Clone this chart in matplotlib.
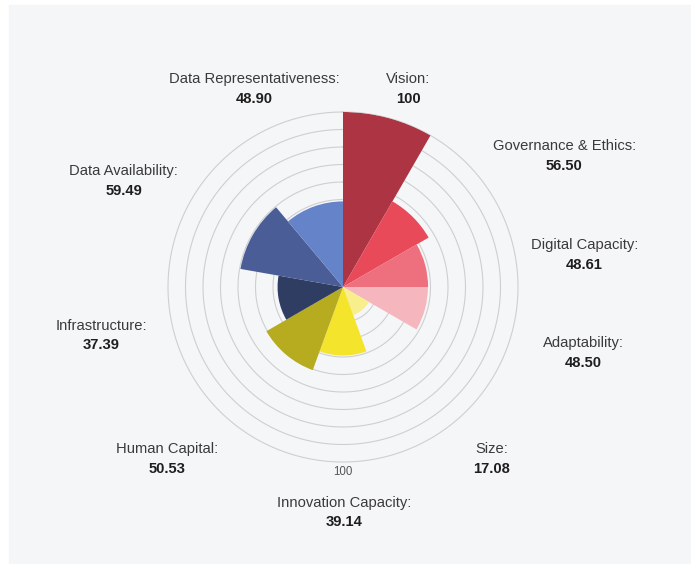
import matplotlib.pyplot as plt
import numpy as np

plt.rcParams['font.family'] = ['Liberation Sans', 'DejaVu Sans']

# data
categories = ["Vision", "Governance & Ethics", "Digital Capacity", "Adaptability",
              "Size", "Innovation Capacity", "Human Capital", "Infrastructure",
              "Data Availability", "Data Representativeness"]
scores = [100, 56.50, 48.61, 48.50, 17.08, 39.14, 50.53, 37.39, 59.49, 48.90]
value_labels = ["100", "56.50", "48.61", "48.50", "17.08", "39.14", "50.53",
                "37.39", "59.49", "48.90"]
# angular share of each sector, degrees (clockwise from top)
sector_deg = [30, 30, 30, 30, 40, 40, 40, 40, 40, 40]
grid_levels = [10, 20, 30, 40, 50, 60, 70, 80, 90, 100]

colors = ["#ad3443", "#e84a5a", "#ee6f7d", "#f5b6be", "#f8ee8c",
          "#f4e52c", "#b7ab1f", "#2f3d63", "#4b5d96", "#6583c8"]

# label placement: (compass angle in degrees, radius in data units)
label_pos = [(18, 120), (59, 147), (82, 139), (105, 142), (139, 129),
             (180, 128), (226, 140), (259, 141), (296, 140), (336, 125)]

W, H = 691, 564
fig = plt.figure(figsize=(W / 100, H / 100), dpi=100)
fig.patch.set_facecolor("white")
fig.add_artist(plt.Rectangle((9 / W, 0), 1 - 9 / W, 1 - 5 / H,
                             transform=fig.transFigure, color="#f5f6f8", zorder=0))

cx, cy, R = 343, 287, 175
ax = fig.add_axes([(cx - R) / W, (H - cy - R) / H, 2 * R / W, 2 * R / H],
                  projection="polar")
ax.set_theta_zero_location("N")
ax.set_theta_direction(-1)
ax.set_facecolor("none")
ax.set_ylim(0, 100)
ax.grid(False)
ax.set_xticks([])
ax.set_yticks([])
ax.spines["polar"].set_visible(False)

# grid circles
tt = np.linspace(0, 2 * np.pi, 400)
for g in grid_levels:
    ax.plot(tt, np.full_like(tt, g), color="#cfcfd2", lw=0.8, zorder=1, clip_on=False)

starts = np.deg2rad(np.concatenate([[0], np.cumsum(sector_deg)[:-1]]))
widths = np.deg2rad(sector_deg)
ax.bar(starts, scores, width=widths, align="edge", color=colors,
       edgecolor="none", zorder=2)

ax.text(np.pi, 105.5, "100", ha="center", va="center", fontsize=8.3,
        color="#555555", clip_on=False)

for name, val, (ang, rad) in zip(categories, value_labels, label_pos):
    th = np.deg2rad(ang)
    ax.annotate(name + ":", xy=(th, rad), xytext=(0.5, 6), textcoords="offset points",
                ha="center", va="center", fontsize=10.6, color="#3a3a3a",
                annotation_clip=False)
    ax.annotate(val, xy=(th, rad), xytext=(0.5, -8.2), textcoords="offset points",
                ha="center", va="center", fontsize=10.6, fontweight="bold",
                color="#1e1e1e", annotation_clip=False)

fig.savefig("out.png", dpi=100)
